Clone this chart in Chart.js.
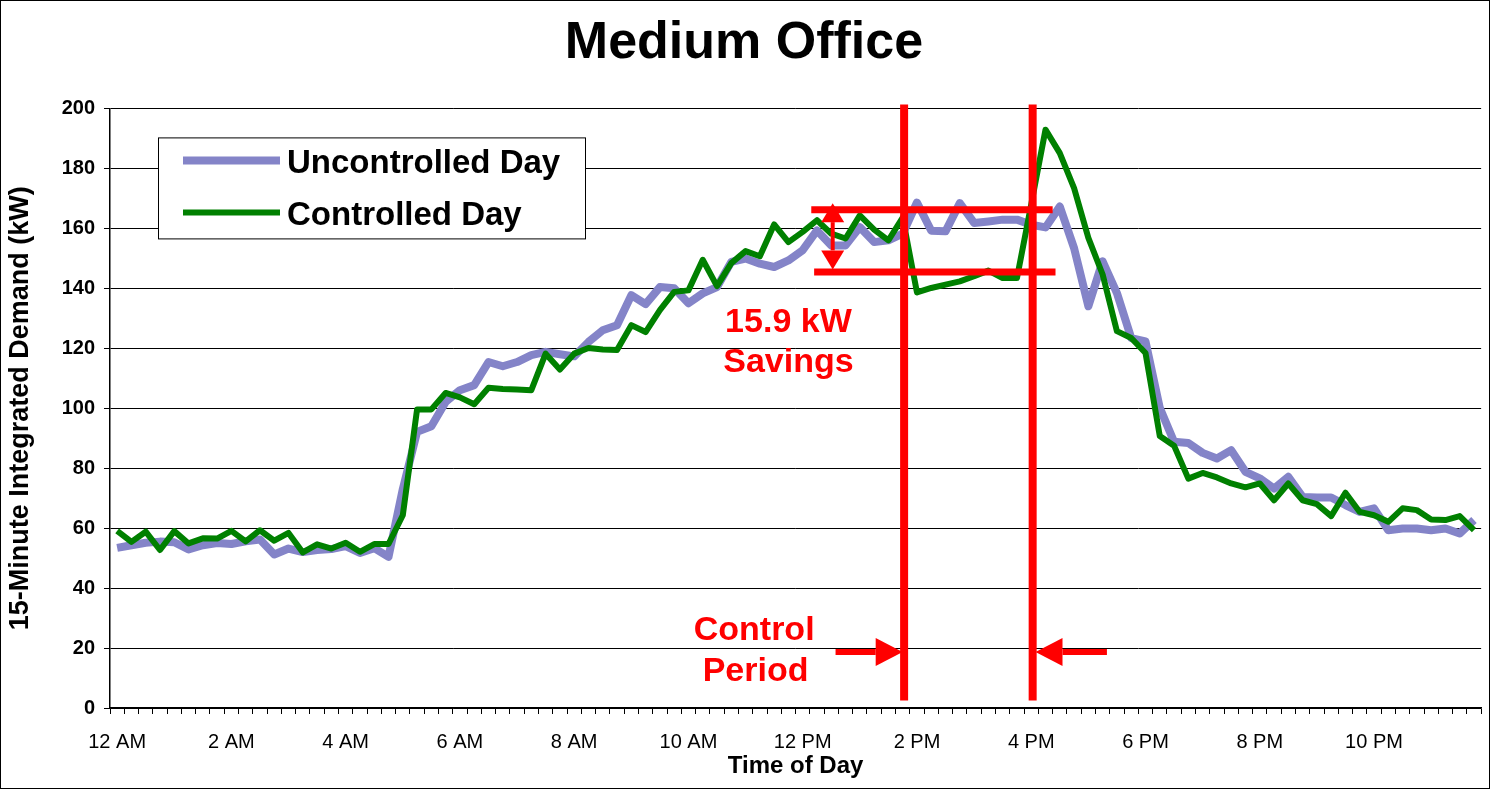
<!DOCTYPE html>
<html>
<head>
<meta charset="utf-8">
<title>Medium Office</title>
<script src="https://cdn.jsdelivr.net/npm/chart.js@4.4.1/dist/chart.umd.min.js"></script>
<style>
  html, body { margin: 0; padding: 0; background: #fff; }
  #wrap { width: 1490px; height: 789px; }
</style>
</head>
<body>
<div id="wrap"><canvas id="chart" width="1490" height="789"></canvas></div>
<script>
// 15-minute intervals, 12:00 AM .. 11:45 PM
const timeSlots = [];
for (let h = 0; h < 24; h++) {
    for (let m = 0; m < 60; m += 15) {
        const hh = h % 12 === 0 ? 12 : h % 12;
        timeSlots.push(hh + ':' + String(m).padStart(2, '0') + (h < 12 ? ' AM' : ' PM'));
    }
}

// one label every 2 hours (every 8th slot)
const hourLabels = ['12 AM', '2 AM', '4 AM', '6 AM', '8 AM', '10 AM',
                    '12 PM', '2 PM', '4 PM', '6 PM', '8 PM', '10 PM'];

const uncontrolledKw = [
    53.4, 54.3, 55.1, 55.5, 55.3, 52.9, 54.3, 55.0, 54.7, 55.6, 56.2, 51.2,
    53.2, 52.0, 52.7, 53.0, 54.0, 51.7, 53.3, 50.4, 73.0, 92.1, 94.0, 102.1,
    106.0, 107.7, 115.4, 114.0, 115.4, 117.7, 118.8, 118.0, 117.3, 122.1, 126.0, 127.7,
    137.7, 134.7, 140.4, 140.0, 135.0, 138.3, 140.4, 148.8, 149.9, 148.2, 147.1, 149.3,
    152.7, 159.3, 154.3, 154.3, 160.4, 155.4, 156.0, 158.2, 168.6, 159.2, 159.0, 168.4,
    161.8, 162.3, 162.9, 162.9, 161.2, 160.3, 167.3, 153.4, 134.0, 149.0, 138.4, 123.4,
    122.3, 100.1, 88.8, 88.4, 85.1, 83.2, 86.0, 78.8, 76.6, 73.2, 77.1, 70.4,
    70.2, 70.2, 67.7, 65.4, 66.6, 59.3, 59.9, 59.9, 59.3, 59.9, 58.2, 62.7
];

const controlledKw = [
    59.1, 55.4, 58.8, 52.7, 59.0, 54.9, 56.6, 56.5, 59.1, 55.6, 59.3, 55.8,
    58.4, 51.9, 54.6, 53.2, 55.1, 52.1, 54.7, 54.7, 64.3, 99.6, 99.6, 105.1,
    103.6, 101.3, 106.8, 106.4, 106.2, 106.0, 118.2, 112.9, 118.2, 120.1, 119.6, 119.4,
    127.7, 125.4, 132.7, 138.8, 139.3, 149.5, 140.7, 148.4, 152.4, 150.7, 161.3, 155.4,
    158.8, 162.7, 158.2, 156.6, 164.3, 159.6, 156.0, 163.6, 138.6, 140.1, 141.2, 142.3,
    144.0, 145.9, 143.4, 143.4, 168.0, 192.9, 185.1, 173.4, 156.8, 144.6, 125.7, 123.4,
    118.4, 90.7, 87.5, 76.5, 78.4, 76.9, 74.9, 73.6, 74.9, 69.3, 74.9, 69.3,
    68.0, 64.0, 71.8, 65.4, 64.3, 62.1, 66.6, 66.0, 62.9, 62.7, 64.0, 59.3
];

// annotation anchors, in axis units (slot index / kW)
const controlStart = 55.1;
const controlEnd = 64.1;
const savingsTop = 166.2;
const savingsBottom = 145.4;

const FONT = 'Arial, "Liberation Sans", sans-serif';
const RED = '#ff0000';

function arrow(ctx, x1, y1, x2, y2, shaftW, headLen, headW) {
    const ang = Math.atan2(y2 - y1, x2 - x1);
    const bx = x2 - Math.cos(ang) * headLen;
    const by = y2 - Math.sin(ang) * headLen;
    ctx.lineWidth = shaftW;
    ctx.lineCap = 'butt';
    ctx.beginPath();
    ctx.moveTo(x1, y1);
    ctx.lineTo(bx, by);
    ctx.stroke();
    const nx = -Math.sin(ang) * headW / 2;
    const ny = Math.cos(ang) * headW / 2;
    ctx.beginPath();
    ctx.moveTo(x2, y2);
    ctx.lineTo(bx + nx, by + ny);
    ctx.lineTo(bx - nx, by - ny);
    ctx.closePath();
    ctx.fill();
}

// red control-period markers and savings callout
const controlMarks = {
    id: 'controlMarks',
    afterDatasetsDraw(chart) {
        const { ctx, scales: { x, y } } = chart;
        ctx.save();
        ctx.strokeStyle = RED;
        ctx.fillStyle = RED;
        ctx.lineCap = 'butt';

        // vertical control-period lines
        ctx.lineWidth = 8;
        [controlStart, controlEnd].forEach(idx => {
            const px = x.getPixelForValue(idx);
            ctx.beginPath();
            ctx.moveTo(px, y.getPixelForValue(201.3));
            ctx.lineTo(px, y.getPixelForValue(2.5));
            ctx.stroke();
        });

        // horizontal savings levels
        ctx.lineWidth = 7;
        ctx.beginPath();
        ctx.moveTo(x.getPixelForValue(48.6), y.getPixelForValue(savingsTop));
        ctx.lineTo(x.getPixelForValue(65.5), y.getPixelForValue(savingsTop));
        ctx.moveTo(x.getPixelForValue(48.8), y.getPixelForValue(savingsBottom));
        ctx.lineTo(x.getPixelForValue(65.7), y.getPixelForValue(savingsBottom));
        ctx.stroke();

        // double-headed savings arrow
        const ax = x.getPixelForValue(50.1);
        const ay1 = y.getPixelForValue(savingsTop + 2.2);
        const ay2 = y.getPixelForValue(savingsBottom + 0.9);
        const mid = (ay1 + ay2) / 2;
        arrow(ctx, ax, mid, ax, ay1, 4, 19, 23);
        arrow(ctx, ax, mid, ax, ay2, 4, 19, 23);

        // control-period pointers
        const py = y.getPixelForValue(18.7);
        arrow(ctx, x.getPixelForValue(50.3), py, x.getPixelForValue(55.0), py, 6, 27, 28);
        arrow(ctx, x.getPixelForValue(69.3), py, x.getPixelForValue(64.3), py, 6, 27, 28);

        // labels
        ctx.font = 'bold 34px ' + FONT;
        ctx.textAlign = 'center';
        ctx.textBaseline = 'middle';
        ctx.fillText('15.9 kW', x.getPixelForValue(47.0), y.getPixelForValue(128.7));
        ctx.fillText('Savings', x.getPixelForValue(47.0), y.getPixelForValue(115.3));
        ctx.fillText('Control', x.getPixelForValue(44.6), y.getPixelForValue(25.7));
        ctx.fillText('Period', x.getPixelForValue(44.7), y.getPixelForValue(12.0));
        ctx.restore();
    }
};

// boxed legend inside the plot, upper left
const boxLegend = {
    id: 'boxLegend',
    afterDraw(chart) {
        const { ctx, chartArea } = chart;
        const left = chartArea.left + 48;
        const top = chartArea.top + 29;
        const w = 427, h = 101;
        ctx.save();
        ctx.fillStyle = '#fff';
        ctx.fillRect(left, top, w, h);
        ctx.strokeStyle = '#000';
        ctx.lineWidth = 1;
        ctx.strokeRect(left + 0.5, top + 0.5, w, h);
        chart.data.datasets.forEach((ds, i) => {
            const ly = top + 23 + i * 52;
            ctx.strokeStyle = ds.borderColor;
            ctx.lineWidth = ds.borderWidth;
            ctx.beginPath();
            ctx.moveTo(left + 25, ly);
            ctx.lineTo(left + 122, ly);
            ctx.stroke();
            ctx.fillStyle = '#000';
            ctx.font = 'bold 33px ' + FONT;
            ctx.textAlign = 'left';
            ctx.textBaseline = 'middle';
            ctx.fillText(ds.label, left + 129, ly + 4);
        });
        ctx.restore();
    }
};

// thin frame around the whole picture
const outerFrame = {
    id: 'outerFrame',
    afterDraw(chart) {
        const { ctx, width, height } = chart;
        ctx.save();
        ctx.strokeStyle = '#000';
        ctx.lineWidth = 1;
        ctx.strokeRect(0.5, 0.5, width - 1, height - 1);
        ctx.restore();
    }
};

new Chart(document.getElementById('chart'), {
    type: 'line',
    data: {
        labels: timeSlots,
        datasets: [
            {
                label: 'Uncontrolled Day',
                data: uncontrolledKw,
                borderColor: '#8484c8',
                borderWidth: 8,
                borderJoinStyle: 'round',
                pointRadius: 0,
                tension: 0,
                order: 2
            },
            {
                label: 'Controlled Day',
                data: controlledKw,
                borderColor: '#008000',
                borderWidth: 6,
                borderJoinStyle: 'round',
                pointRadius: 0,
                tension: 0,
                order: 1
            }
        ]
    },
    options: {
        responsive: false,
        devicePixelRatio: 1,
        animation: false,
        events: [],
        layout: { padding: { left: 0, right: 2, top: 0, bottom: 0 } },
        plugins: {
            legend: { display: false },
            tooltip: { enabled: false },
            title: {
                display: true,
                text: 'Medium Office',
                color: '#000',
                font: { family: FONT, size: 52, weight: 'bold', lineHeight: 1.2 },
                padding: { top: 12, bottom: 34 }
            }
        },
        scales: {
            x: {
                type: 'category',
                offset: true,
                grid: {
                    offset: true,
                    drawOnChartArea: false,
                    color: '#000',
                    tickColor: '#000',
                    tickLength: 6
                },
                border: { color: '#000', width: 1.5 },
                ticks: {
                    autoSkip: false,
                    maxRotation: 0,
                    minRotation: 0,
                    padding: 16,
                    color: '#000',
                    font: { family: FONT, size: 20 },
                    callback: (v, i) => (i % 8 === 0 ? hourLabels[i / 8] : '')
                },
                title: {
                    display: true,
                    text: 'Time of Day',
                    color: '#000',
                    font: { family: FONT, size: 24, weight: 'bold', lineHeight: 1.2 },
                    padding: { top: 0, bottom: 8 }
                },
                afterFit: scale => { scale.height = 81; }
            },
            y: {
                min: 0,
                max: 200,
                ticks: {
                    stepSize: 20,
                    padding: 9,
                    color: '#000',
                    font: { family: FONT, size: 20, weight: 'bold' }
                },
                grid: { color: '#000', lineWidth: 1, tickLength: 6, tickColor: '#000' },
                border: { color: '#000', width: 1.5 },
                title: {
                    display: true,
                    text: '15-Minute Integrated Demand (kW)',
                    color: '#000',
                    font: { family: FONT, size: 27, weight: 'bold', lineHeight: 1.2 },
                    padding: { top: 4, bottom: 0 }
                },
                afterFit: scale => { scale.width = 110; }
            }
        }
    },
    plugins: [controlMarks, boxLegend, outerFrame]
});
</script>
</body>
</html>
